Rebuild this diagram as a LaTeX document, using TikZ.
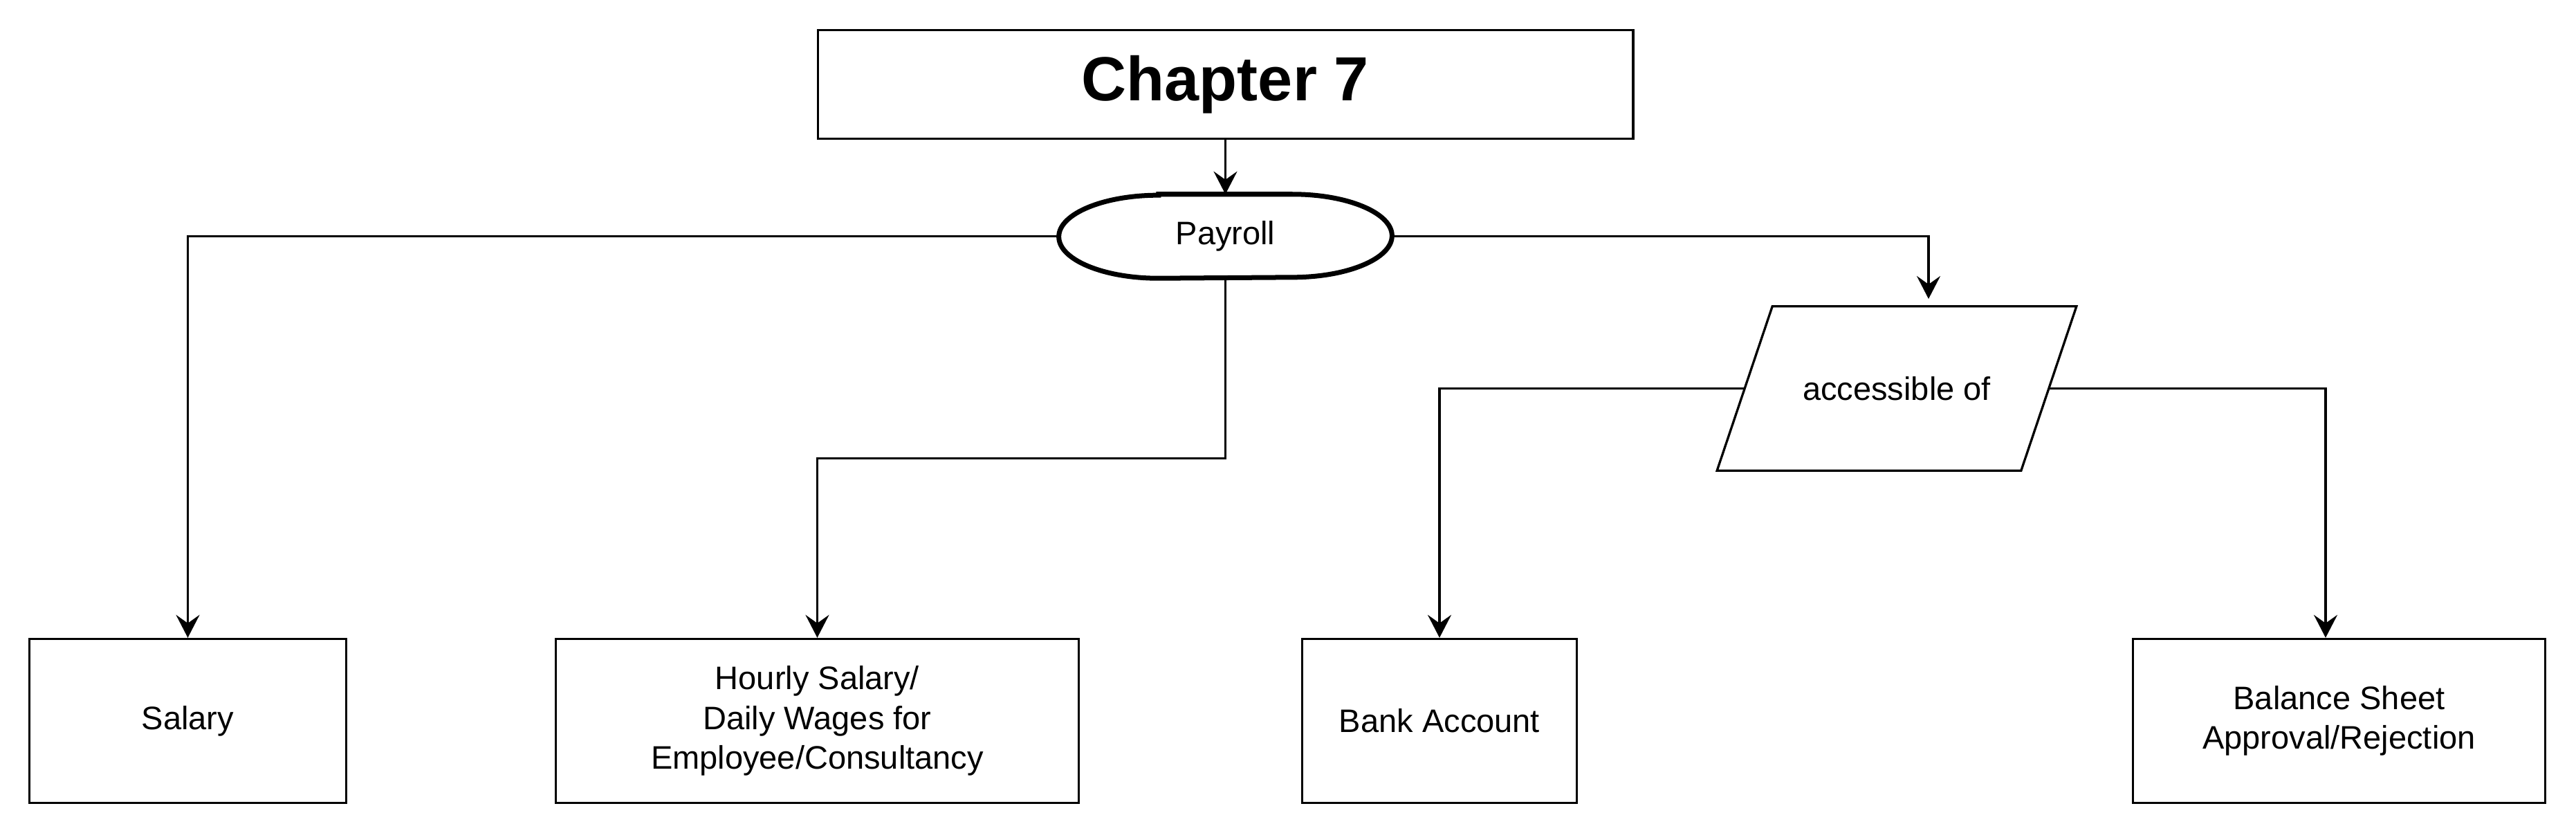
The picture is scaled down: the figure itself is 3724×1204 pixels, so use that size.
\documentclass[tikz,border=0pt]{standalone}
\usepackage{fontspec}
\setmainfont{Liberation Sans}
\usetikzlibrary{arrows.meta}
\begin{document}
\begin{tikzpicture}[x=0.01cm, y=-0.01cm,
  txt/.style={font=\fontsize{13.37pt}{16.3pt}\selectfont, align=center, inner sep=0pt},
  box/.style={txt, draw, line width=0.033cm, minimum height=2.37cm},
  conn/.style={line width=0.033cm, -{Stealth[length=0.33cm,width=0.34cm,inset=0.12cm]}},
  thin line/.style={line width=0.033cm},
  thick line/.style={line width=0.07cm}]
\path[use as bounding box] (0,0) rectangle (3724,1204);
% title
\node[box, minimum width=11.78cm, minimum height=1.57cm,
      font=\fontsize{25.6pt}{30pt}\selectfont\bfseries] (chap) at (1771.5,122) {Chapter 7};
% payroll terminator
\node[txt, minimum width=4.8cm, minimum height=1.2cm] (payroll) at (1771.5,341.5) {Payroll};
\draw[thick line] ([xshift=1.44cm]payroll.north west) -- ([xshift=-1.44cm]payroll.north east)
  arc[start angle=90, end angle=-90, x radius=1.44cm, y radius=0.6cm]
  -- ([xshift=1.44cm]payroll.south west)
  arc[start angle=270, end angle=90, x radius=1.44cm, y radius=0.6cm] -- cycle;
% parallelogram
\node[txt, minimum width=5.18cm, minimum height=2.36cm] (acc) at (2742,561.5) {accessible of};
\draw[thin line] ([xshift=0.8cm]acc.north west) -- (acc.north east)
  -- ([xshift=-0.8cm]acc.south east) -- (acc.south west) -- cycle;
% bottom boxes
\node[box, minimum width=4.58cm] (salary) at (271.5,1042) {Salary};
\node[box, minimum width=7.56cm] (hourly) at (1181.5,1042) {Hourly Salary/\\Daily Wages for\\Employee/Consultancy};
\node[box, minimum width=3.97cm] (bank) at (2081,1042) {Bank Account};
\node[box, minimum width=5.96cm] (balance) at (3381.5,1042) {Balance Sheet\\Approval/Rejection};
% connectors
\coordinate (accin) at (2788,432);
\draw[conn] (chap.south) -- (payroll.north);
\draw[conn] (payroll.west) -| (salary.north);
\draw[conn] (payroll.south) -- ++(0,260.5) -| (hourly.north);
\draw[conn] (payroll.east) -| (accin);
\draw[conn] ([xshift=0.4cm]acc.west) -| (bank.north);
\draw[conn] ([xshift=-0.4cm]acc.east) -| ([xshift=-0.195cm]balance.north);
\end{tikzpicture}
\end{document}
